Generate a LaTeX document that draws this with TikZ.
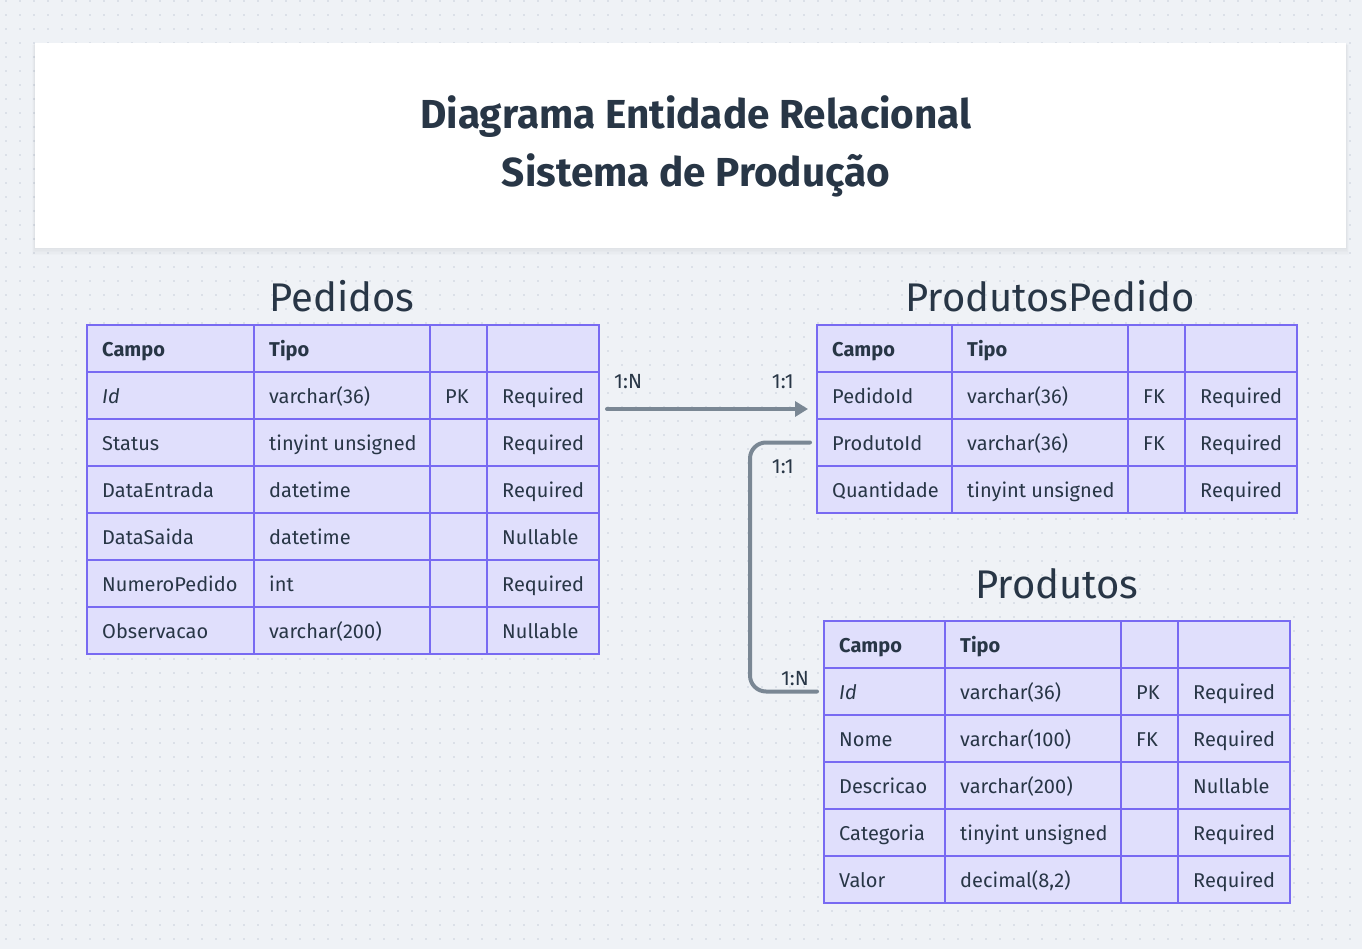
\documentclass[tikz,border=0pt]{standalone}
\usepackage{fontspec}
\setmainfont{Fira Sans}
\usetikzlibrary{arrows.meta}
\definecolor{bgc}{RGB}{239,242,246}
\definecolor{dotc}{RGB}{200,206,218}
\definecolor{ink}{RGB}{40,54,70}
\definecolor{cellfill}{RGB}{224,223,252}
\definecolor{cellline}{RGB}{120,106,242}
\definecolor{connc}{RGB}{122,135,148}
\tikzset{
  cell/.style={draw=cellline, fill=cellfill, line width=2.6pt, minimum height=47pt, inner sep=0pt, outer sep=0pt, anchor=north west},
  celltext/.style={anchor=base west, text=ink, font=\fontsize{20}{24}\selectfont, inner sep=0pt},
  tabtitle/.style={text=ink, font=\fontsize{40}{48}\selectfont, anchor=base, inner sep=0pt},
  titletext/.style={text=ink, font=\bfseries\fontsize{40.5}{48}\selectfont, anchor=base, inner sep=0pt},
  connector/.style={draw=connc, line width=4pt, line cap=round, rounded corners=16pt},
  card/.style={text=ink, font=\fontsize{20.5}{24}\selectfont, inner sep=0pt},
}
% #1 name, #2..#6 column x, #7 top y, #8 rows
\newcommand\ertable[8]{%
  \foreach \ca/\cb/\cc/\cd [count=\r from 0] in {#8} {
    \pgfmathsetmacro\yy{#7+47*\r}
    \node[cell, minimum width={#3-#2}] (#1-\r-1) at (#2,\yy) {};
    \node[cell, minimum width={#4-#3}] (#1-\r-2) at (#3,\yy) {};
    \node[cell, minimum width={#5-#4}] (#1-\r-3) at (#4,\yy) {};
    \node[cell, minimum width={#6-#5}] (#1-\r-4) at (#5,\yy) {};
    \node[celltext] (#1-\r-1t) at (#2+15,\yy+31) {\ca};
    \node[celltext] (#1-\r-2t) at (#3+15,\yy+31) {\cb};
    \node[celltext] (#1-\r-3t) at (#4+15,\yy+31) {\cc};
    \node[celltext] (#1-\r-4t) at (#5+15,\yy+31) {\cd};
  }%
}
\begin{document}
\begin{tikzpicture}[x=1pt,y=-1pt]
\useasboundingbox (0,0) rectangle (1362,949);
\fill[bgc] (0,0) rectangle (1362,949);
\foreach \i in {0,...,96}{\foreach \j in {0,...,67}{\fill[dotc] (6+14*\i,1+14*\j) circle (0.9pt);}}

% title card
\foreach \s in {1,...,5}{\fill[black,opacity=0.012] (35-\s*0.6,43+\s*0.4) rectangle (1346+\s*0.6,248+\s*1.4);}
\node[fill=white, minimum width=1311pt, minimum height=205pt, inner sep=0pt, anchor=north west] (card) at (35,43) {};
\node[titletext] (title1) at (696,129) {Diagrama Entidade Relacional};
\node[titletext] (title2) at (696,187) {Sistema de Produção};

% tables
\node[tabtitle] (tPedidos) at (342,312) {Pedidos};
\ertable{P}{87}{254}{430}{487}{599}{325}{%
  \textbf{Campo}/\textbf{Tipo}//,
  \textit{Id}/varchar(36)/PK/Required,
  Status/tinyint unsigned//Required,
  DataEntrada/datetime//Required,
  DataSaida/datetime//Nullable,
  NumeroPedido/int//Required,
  Observacao/varchar(200)//Nullable}

\node[tabtitle] (tPP) at (1050,312) {ProdutosPedido};
\ertable{PP}{817}{952}{1128}{1185}{1297}{325}{%
  \textbf{Campo}/\textbf{Tipo}//,
  PedidoId/varchar(36)/FK/Required,
  ProdutoId/varchar(36)/FK/Required,
  Quantidade/tinyint unsigned//Required}

\node[tabtitle] (tPR) at (1057,598) {Produtos};
\ertable{PR}{824}{945}{1121}{1178}{1290}{621}{%
  \textbf{Campo}/\textbf{Tipo}//,
  \textit{Id}/varchar(36)/PK/Required,
  Nome/varchar(100)/FK/Required,
  Descricao/varchar(200)//Nullable,
  Categoria/tinyint unsigned//Required,
  Valor/{decimal(8,2)}//Required}

% connectors
\draw[connector, -{Triangle[length=13pt,width=15pt]}] ([shift={(8,13.5)}]P-1-4.east) -- ([shift={(-9,13.5)}]PP-1-1.west);
\draw[connector] ([xshift=-7pt]PP-2-1.west) -- ++(-60,0) |- ([xshift=-7pt]PR-1-1.west);

\node[card, anchor=base west] (l1) at (614,388) {1:N};
\node[card, anchor=base east] (l2) at (794,388) {1:1};
\node[card, anchor=base east] (l3) at (794,473) {1:1};
\node[card, anchor=base east] (l4) at (809,685) {1:N};
\end{tikzpicture}
\end{document}
